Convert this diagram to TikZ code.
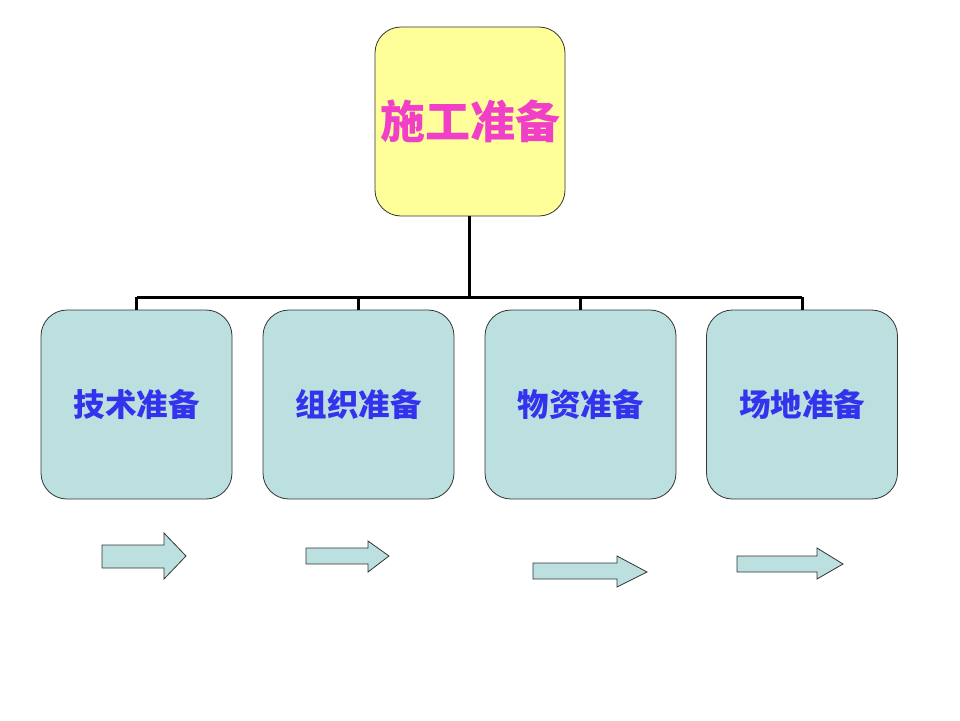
\documentclass[tikz,border=0pt]{standalone}
\usepackage{fontspec}
\newfontfamily\cjk{Noto Sans CJK SC}
\usetikzlibrary{calc}
\definecolor{topfill}{HTML}{FFFF99}
\definecolor{topink}{HTML}{F040C8}
\definecolor{boxfill}{HTML}{BCE0E0}
\definecolor{boxink}{HTML}{3333EE}
\begin{document}
\begin{tikzpicture}[x=1pt,y=-1pt,
  topbox/.style={draw=black!80, line width=0.8pt, fill=topfill, rounded corners=26pt,
    minimum width=190pt, minimum height=189pt, inner sep=0pt,
    font=\cjk\bfseries\fontsize{45}{48}\selectfont, text=topink},
  subbox/.style={draw=black!80, line width=0.8pt, fill=boxfill, rounded corners=26pt,
    minimum width=191pt, minimum height=189pt, inner sep=0pt,
    font=\cjk\bfseries\fontsize{31.5}{34}\selectfont, text=boxink},
  link/.style={line width=3pt, black},
  fatarrow/.style={draw=black!80, line width=0.8pt, fill=boxfill, line join=miter}]
\useasboundingbox (0,0) rectangle (960,720);
\node[topbox] (top) at (470,121.5) {施工准备};
\node[subbox] (b1) at (136.5,404.5) {技术准备};
\node[subbox] (b2) at (358.5,404.5) {组织准备};
\node[subbox] (b3) at (580.5,404.5) {物资准备};
\node[subbox] (b4) at (802,404.5) {场地准备};
\coordinate (bus) at (469,297);
\draw[link] (top.south -| bus) -- (bus);
\draw[link] (b1.north |- bus) -- (b4.north |- bus);
\foreach \b in {b1,b2,b3,b4} \draw[link] (\b.north |- bus) -- (\b.north);
% block arrows
\draw[fatarrow] (102,545) -- (164,545) -- (164,533) -- (186,556) -- (164,579) -- (164,568) -- (102,568) -- cycle;
\draw[fatarrow] (306,548) -- (368,548) -- (368,541) -- (389,556) -- (368,572) -- (368,564) -- (306,564) -- cycle;
\draw[fatarrow] (533,563) -- (617,563) -- (617,556) -- (647,572) -- (617,587) -- (617,579) -- (533,579) -- cycle;
\draw[fatarrow] (737,556) -- (817,556) -- (817,548) -- (843,564) -- (817,579) -- (817,572) -- (737,572) -- cycle;
\end{tikzpicture}
\end{document}
